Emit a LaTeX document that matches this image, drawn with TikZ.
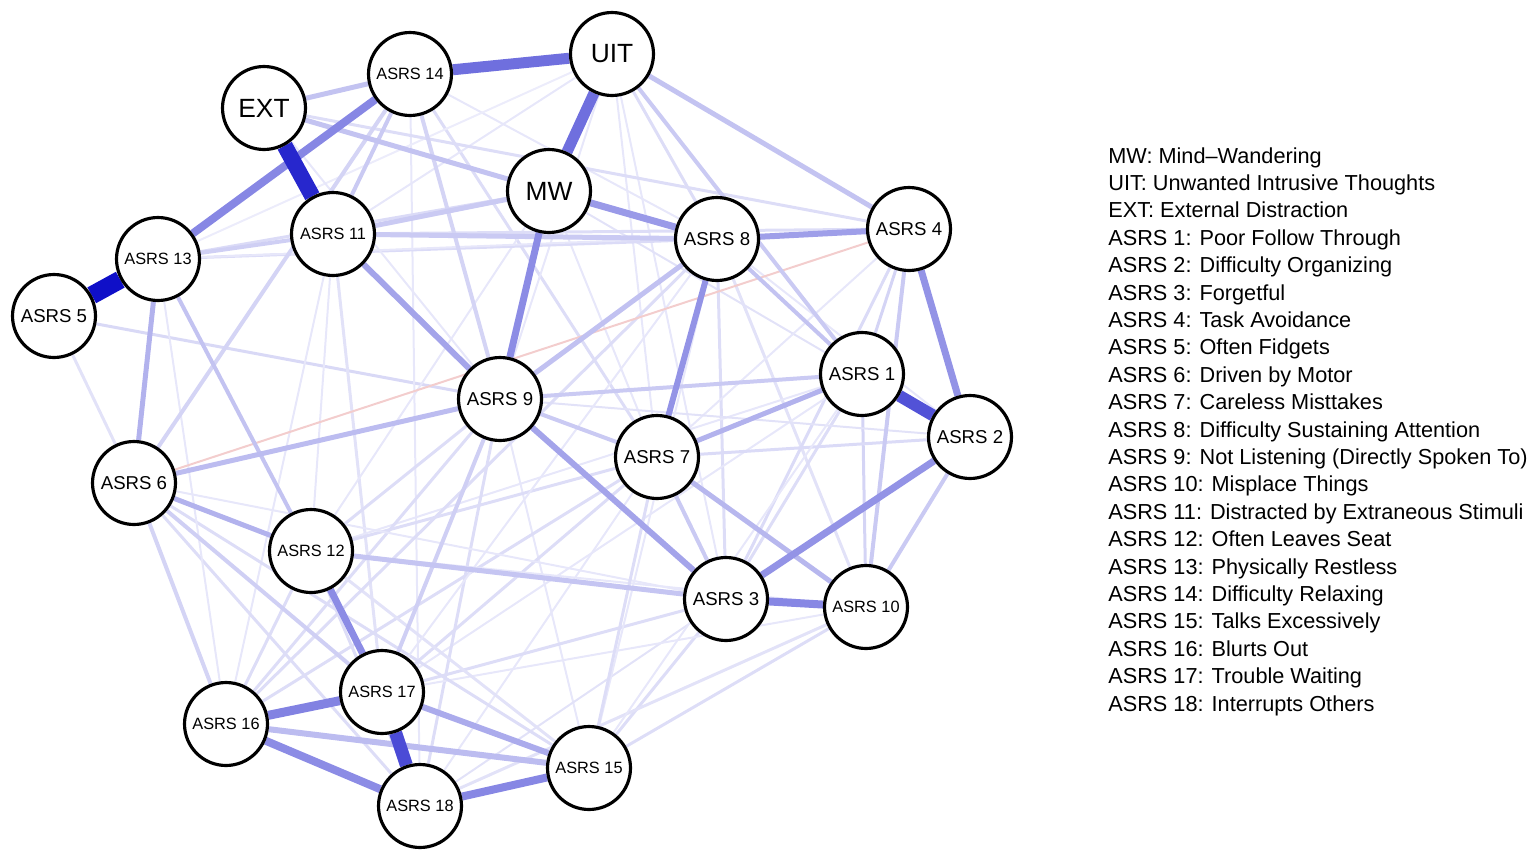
\documentclass[tikz,border=0pt]{standalone}
\usepackage{fontspec}
\setmainfont{Liberation Sans}
\pgfdeclarelayer{background}
\pgfsetlayers{background,main}
\definecolor{eb}{RGB}{15,15,200}
\definecolor{er}{RGB}{215,90,90}
\newcommand\lnk[4]{\draw[line width=#3*0.569pt, draw=eb!#4!white] (#1) -- (#2);}
\newcommand\fsa{\fontsize{10.6}{12}\selectfont}
\newcommand\fsb{\fontsize{9.3}{11}\selectfont}
\newcommand\fsc{\fontsize{15}{18}\selectfont}
\tikzset{
  nd/.style={circle, draw=black, line width=1.8pt, fill=white, minimum size=1.66cm, inner sep=0pt},
  legtxt/.style={anchor=base west, inner sep=0pt, font=\fontsize{12.35}{14}\selectfont}
}
\begin{document}
\begin{tikzpicture}[x=0.02cm,y=-0.02cm]
\useasboundingbox (0,0) rectangle (1535,862);
% nodes
\node[nd,font=\fsc] (UIT) at (612,54) {UIT};
\node[nd,font=\fsb] (A14) at (410,74) {ASRS 14};
\node[nd,font=\fsc] (EXT) at (264,108) {EXT};
\node[nd,font=\fsc] (MW) at (549,191) {MW};
\node[nd,font=\fsb] (A11) at (333,234) {ASRS 11};
\node[nd,font=\fsb] (A13) at (158,259) {ASRS 13};
\node[nd,font=\fsa] (A5) at (54,316) {ASRS 5};
\node[nd,font=\fsa] (A8) at (717,239) {ASRS 8};
\node[nd,font=\fsa] (A4) at (909,229) {ASRS 4};
\node[nd,font=\fsa] (A1) at (862,374) {ASRS 1};
\node[nd,font=\fsa] (A2) at (970,437) {ASRS 2};
\node[nd,font=\fsa] (A9) at (500,399) {ASRS 9};
\node[nd,font=\fsa] (A7) at (657,457) {ASRS 7};
\node[nd,font=\fsa] (A6) at (134,483) {ASRS 6};
\node[nd,font=\fsb] (A12) at (311,551) {ASRS 12};
\node[nd,font=\fsa] (A3) at (726,599) {ASRS 3};
\node[nd,font=\fsb] (A10) at (866,607) {ASRS 10};
\node[nd,font=\fsb] (A17) at (382,692) {ASRS 17};
\node[nd,font=\fsb] (A16) at (226,724) {ASRS 16};
\node[nd,font=\fsb] (A15) at (589,768) {ASRS 15};
\node[nd,font=\fsb] (A18) at (420,806) {ASRS 18};
% edges
\begin{pgfonlayer}{background}
% faint
\lnk{A5}{A6}{3}{12}
\lnk{A5}{A9}{3}{16}
\lnk{A11}{A17}{3}{12}
\lnk{A11}{A16}{2}{10}
\lnk{A14}{A18}{2}{10}
\lnk{A14}{A7}{3}{14}
\lnk{A14}{A8}{2}{10}
\lnk{UIT}{A11}{2}{10}
\lnk{UIT}{A13}{2}{8}
\lnk{UIT}{A9}{2}{10}
\lnk{UIT}{A7}{2}{10}
\lnk{UIT}{A3}{2}{10}
\lnk{UIT}{A8}{3}{14}
\lnk{MW}{A7}{2}{10}
\lnk{MW}{A12}{2}{10}
\lnk{MW}{A1}{2}{12}
\lnk{A8}{A3}{3}{14}
\lnk{A8}{A10}{3}{12}
\lnk{A8}{A2}{2}{10}
\lnk{A4}{A7}{2}{10}
\lnk{A4}{A3}{3}{15}
\lnk{A4}{A1}{3}{18}
\lnk{A1}{A10}{3}{18}
\lnk{A1}{A3}{3}{14}
\lnk{A1}{A17}{2}{10}
\lnk{A1}{A12}{2}{10}
\lnk{A2}{A7}{3}{15}
\lnk{A2}{A9}{2}{12}
\lnk{A9}{A18}{3}{14}
\lnk{A9}{A16}{3}{14}
\lnk{A9}{A15}{2}{10}
\lnk{A9}{A12}{3}{14}
\lnk{A7}{A17}{3}{14}
\lnk{A7}{A18}{2}{10}
\lnk{A7}{A16}{3}{14}
\lnk{A7}{A12}{3}{14}
\lnk{A3}{A17}{3}{14}
\lnk{A3}{A18}{2}{12}
\lnk{A3}{A15}{3}{14}
\lnk{A10}{A15}{3}{14}
\lnk{A10}{A18}{3}{12}
\lnk{A10}{A17}{2}{10}
\lnk{A10}{A12}{2}{10}
\lnk{A12}{A16}{3}{14}
\lnk{A12}{A18}{3}{14}
\lnk{A12}{A15}{3}{12}
\lnk{A6}{A18}{3}{14}
\lnk{A6}{A15}{3}{14}
\lnk{A6}{A3}{2}{10}
\lnk{A13}{MW}{3}{15}
\lnk{A13}{A8}{3}{15}
\lnk{A13}{A4}{2}{10}
\lnk{A13}{A16}{2}{10}
\lnk{A11}{A4}{3}{14}
\lnk{A11}{A12}{2}{10}
\lnk{EXT}{A8}{2}{10}
\lnk{EXT}{A9}{2}{10}
\lnk{EXT}{A4}{3}{14}
\lnk{A16}{A8}{3}{14}
\lnk{A17}{A8}{2}{10}
\lnk{A15}{A8}{2}{10}
\lnk{A15}{A7}{3}{14}
\lnk{A15}{A1}{2}{10}
\draw[line width=2*0.569pt, draw=er!30!white] (A6) -- (A4);
\lnk{A6}{A16}{4}{18}
\lnk{A6}{A17}{4}{20}
\lnk{A6}{A14}{4}{18}
\lnk{A13}{A11}{4}{20}
\lnk{A14}{A9}{4}{18}
\lnk{A4}{A10}{4}{22}
\lnk{A2}{A10}{4}{22}
\lnk{A9}{A17}{4}{20}
\lnk{A7}{A9}{4}{22}
\lnk{A7}{A3}{4}{22}
% medium
\lnk{A14}{A11}{4}{22}
\lnk{A9}{A1}{4}{22}
\lnk{UIT}{A1}{4}{22}
\lnk{A8}{A1}{4}{25}
\lnk{A11}{A8}{5}{22}
\lnk{A11}{MW}{5}{22}
\lnk{A8}{A9}{5}{26}
\lnk{A13}{A12}{4}{25}
\lnk{EXT}{MW}{5}{25}
\lnk{EXT}{A14}{5}{25}
\lnk{UIT}{A4}{5}{25}
\lnk{A12}{A3}{5}{24}
\lnk{A6}{A9}{5}{28}
\lnk{A7}{A10}{5}{30}
\lnk{A7}{A1}{5}{32}
\lnk{A6}{A12}{5}{32}
\lnk{A13}{A6}{5}{32}
\lnk{A16}{A15}{6}{28}
\lnk{A17}{A15}{6}{35}
\lnk{A9}{A3}{6}{38}
\lnk{A11}{A9}{6}{38}
\lnk{A8}{A4}{6}{40}
\lnk{A8}{A7}{6}{45}
\lnk{MW}{A9}{7}{48}
\lnk{MW}{A8}{7}{42}
\lnk{A4}{A2}{7}{45}
\lnk{A3}{A2}{7}{45}
\lnk{A3}{A10}{8}{50}
\lnk{A12}{A17}{7}{48}
\lnk{A18}{A15}{8}{50}
\lnk{A16}{A18}{8}{48}
\lnk{A16}{A17}{9}{52}
\lnk{A13}{A14}{8}{50}
% strong
\lnk{UIT}{MW}{11}{60}
\lnk{UIT}{A14}{11}{60}
\lnk{A1}{A2}{12}{72}
\lnk{A17}{A18}{13}{75}
\lnk{EXT}{A11}{16}{90}
\lnk{A13}{A5}{18}{100}
\end{pgfonlayer}
% legend
\foreach \t [count=\i from 0] in {
MW: Mind–Wandering,
UIT: Unwanted Intrusive Thoughts,
EXT: External Distraction,
ASRS 1: Poor Follow Through,
ASRS 2: Difficulty Organizing,
ASRS 3: Forgetful,
ASRS 4: Task Avoidance,
ASRS 5: Often Fidgets,
ASRS 6: Driven by Motor,
ASRS 7: Careless Misttakes,
ASRS 8: Difficulty Sustaining Attention,
ASRS 9: Not Listening (Directly Spoken To),
ASRS 10: Misplace Things,
ASRS 11: Distracted by Extraneous Stimuli,
ASRS 12: Often Leaves Seat,
ASRS 13: Physically Restless,
ASRS 14: Difficulty Relaxing,
ASRS 15: Talks Excessively,
ASRS 16: Blurts Out,
ASRS 17: Trouble Waiting,
ASRS 18: Interrupts Others}
{\node[legtxt] (leg\i) at (1108,{163+27.4*\i}) {\t};}
\end{tikzpicture}
\end{document}
